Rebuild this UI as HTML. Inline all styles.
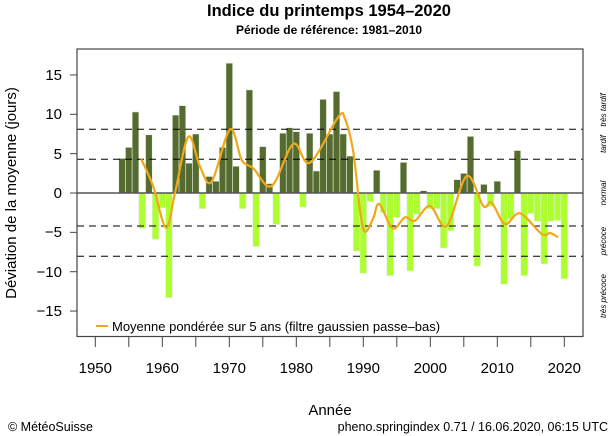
<!DOCTYPE html>
<html><head><meta charset="utf-8"><style>
html,body{margin:0;padding:0;background:#fff;}
svg{display:block;font-family:"Liberation Sans",sans-serif;}
</style></head><body>
<svg id="s" width="612" height="436" viewBox="0 0 612 436" xmlns="http://www.w3.org/2000/svg">
<text x="329" y="16" font-size="16.5" font-weight="bold" text-anchor="middle">Indice du printemps 1954–2020</text>
<text x="329" y="34" font-size="12" font-weight="bold" text-anchor="middle">Période de référence: 1981–2010</text>
<g id="bars"></g>
<line x1="77" y1="193" x2="583" y2="193" stroke="#555" stroke-width="1.5"/>
<g stroke="#000" stroke-width="1" stroke-dasharray="7,5">
<line x1="77" y1="129.3" x2="583" y2="129.3"/>
<line x1="77" y1="159.3" x2="583" y2="159.3"/>
<line x1="77" y1="226" x2="583" y2="226"/>
<line x1="77" y1="256.3" x2="583" y2="256.3"/>
</g>
<path id="curve" fill="none" stroke="#f0a818" stroke-width="2.2" stroke-linejoin="round" stroke-linecap="round"/>
<rect x="77" y="49" width="506" height="287.5" fill="none" stroke="#444" stroke-width="1.2"/>
<g stroke="#444" stroke-width="1" id="ticks"></g>
<g font-size="15" text-anchor="end">
<text x="62" y="80">15</text><text x="62" y="119">10</text><text x="62" y="159">5</text>
<text x="62" y="198">0</text><text x="62" y="237">−5</text><text x="62" y="277">−10</text><text x="62" y="316">−15</text>
</g>
<g font-size="15" text-anchor="middle">
<text x="95.3" y="373">1950</text><text x="162.3" y="373">1960</text><text x="229.3" y="373">1970</text>
<text x="296.3" y="373">1980</text><text x="363.3" y="373">1990</text><text x="430.3" y="373">2000</text>
<text x="497.3" y="373">2010</text><text x="564.3" y="373">2020</text>
</g>
<text transform="translate(16,193) rotate(-90)" font-size="15" text-anchor="middle">Déviation de la moyenne (jours)</text>
<text x="330" y="415" font-size="15" text-anchor="middle">Année</text>
<line x1="96" y1="326" x2="108" y2="326" stroke="#f0a818" stroke-width="2"/>
<text x="112" y="331" font-size="13">Moyenne pondérée sur 5 ans (filtre gaussien passe–bas)</text>
<g font-size="8" font-style="italic" text-anchor="middle">
<text transform="translate(606,110) rotate(-90)">très tardif</text>
<text transform="translate(606,144) rotate(-90)">tardif</text>
<text transform="translate(606,193) rotate(-90)">normal</text>
<text transform="translate(606,241) rotate(-90)">précoce</text>
<text transform="translate(606,296) rotate(-90)">très précoce</text>
</g>
<text x="8" y="431" font-size="12.5">© MétéoSuisse</text>
<text x="608" y="431" font-size="12.5" text-anchor="end">pheno.springindex 0.71 / 16.06.2020, 06:15 UTC</text>
</svg>
<script>
var v=[4.4,5.8,10.3,-4.5,7.4,-5.9,-1.9,-13.3,9.9,11.1,3.8,7.5,-2,2.1,1.5,5.8,16.5,3.4,-2,13.1,-6.8,5.9,1.2,-4,7.6,8.3,7.8,-1.8,7.6,2.8,11.9,7.5,12.9,7.5,4.7,-7.4,-10.2,-1.1,2.9,-2.5,-10.5,-3.1,3.9,-9.9,-2.7,0.3,-2,-2,-7,-4.8,1.7,2.5,7.2,-9.3,1.1,-1.7,1.5,-11.6,-3.3,5.4,-10.5,-2.6,-3.6,-9,-3.6,-3.5,-10.9];
var ns="http://www.w3.org/2000/svg",g=document.getElementById("bars"),k=7.87,z=193;
v.forEach(function(d,i){var yr=1954+i,cx=95.3+(yr-1950)*6.7;var r=document.createElementNS(ns,"rect");
r.setAttribute("x",cx-3.35);r.setAttribute("width",6.7);
var h=Math.abs(d)*k;r.setAttribute("y",d>0?z-h:z);r.setAttribute("height",h);
r.setAttribute("fill",d>0?"#556b2f":"#adff2f");r.setAttribute("stroke","#e8eee0");r.setAttribute("stroke-width","0.6");g.appendChild(r);});
var t=document.getElementById("ticks"),s="";
[15,10,5,0,-5,-10,-15].forEach(function(y){var yy=z-y*k;s+='<line x1="70" y1="'+yy+'" x2="77" y2="'+yy+'"/>';});
for(var yr=1950;yr<=2020;yr+=5){var x=95.3+(yr-1950)*6.7;s+='<line x1="'+x+'" y1="336.5" x2="'+x+'" y2="347"/>';}
t.innerHTML=s;
var p=[[141.7,160],[153.3,186.7],[166,227.7],[175,193],[188.3,136.7],[200,166.7],[211.7,181.7],[230,129.3],[241.7,160],[253.3,168.3],[271.7,186],[293.3,144],[310,162.7],[338.3,117],[345,119],[353.3,152],[360,210],[365,231.7],[373.3,218],[379.3,204],[392.7,228.3],[405,217.3],[415,220.7],[430,206],[446.7,226],[466.7,176],[483.3,206],[491.7,202.7],[505,224],[520,213.3],[541.7,234],[550,233],[557.3,236.7]];
var d="M"+p[0][0]+","+p[0][1];
for(var i=0;i<p.length-1;i++){var p0=p[Math.max(i-1,0)],p1=p[i],p2=p[i+1],p3=p[Math.min(i+2,p.length-1)];
d+=" C"+(p1[0]+(p2[0]-p0[0])/6)+","+(p1[1]+(p2[1]-p0[1])/6)+" "+(p2[0]-(p3[0]-p1[0])/6)+","+(p2[1]-(p3[1]-p1[1])/6)+" "+p2[0]+","+p2[1];}
document.getElementById("curve").setAttribute("d",d);
</script>
</body></html>
